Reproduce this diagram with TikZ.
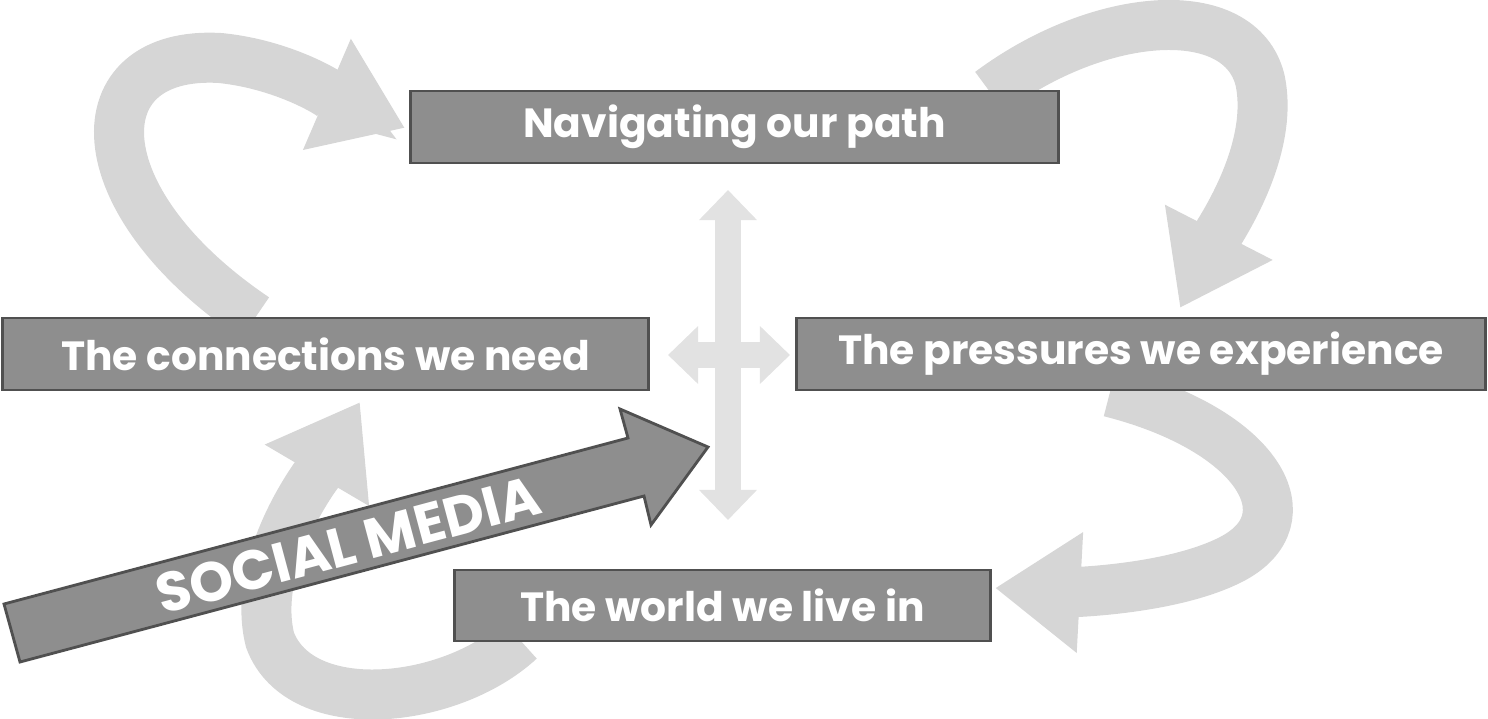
\documentclass[tikz,border=0pt]{standalone}
\usepackage{fontspec}
\setmainfont{Poppins}
\usetikzlibrary{arrows.meta}
\definecolor{boxg}{HTML}{8E8E8E}
\definecolor{boxb}{HTML}{505050}
\definecolor{ribbon}{HTML}{D6D6D6}
\definecolor{cross}{HTML}{E2E2E2}
\tikzset{
 lbl/.style={draw=boxb,fill=boxg,text=white,font=\bfseries\fontsize{11.6pt}{14pt}\selectfont,inner sep=0pt,line width=0.8pt},
 loop/.style={draw=ribbon,line width=0.5cm,-{Triangle[width=1.15cm,length=0.85cm]}},
 crossar/.style={draw=cross,line width=0.26cm,{Triangle[width=0.56cm,length=0.3cm]}-{Triangle[width=0.56cm,length=0.3cm]}}
}
\begin{document}
\begin{tikzpicture}[x=0.01cm,y=-0.01cm]
\useasboundingbox (0,0) rectangle (1488,718);
% ribbons
\draw[loop] (255,318) .. controls (80,200) and (80,50) .. (220,58) .. controls (290,65) and (340,100) .. (405,128);
\draw[loop] (990,92) .. controls (1100,10) and (1240,0) .. (1260,80) .. controls (1275,150) and (1220,230) .. (1180,308);
\draw[loop] (1110,392) .. controls (1260,430) and (1310,520) .. (1230,560) .. controls (1170,590) and (1070,592) .. (995,588);
\draw[loop] (520,640) .. controls (450,705) and (300,720) .. (270,640) .. controls (250,560) and (320,470) .. (360,402);
% boxes
\node[lbl,minimum width=6.47cm,minimum height=0.72cm] (nav) at (734.5,127) {Navigating our path};
\node[lbl,minimum width=6.45cm,minimum height=0.72cm] (con) at (325.5,354) {The connections we need};
\node[lbl,minimum width=6.88cm,minimum height=0.72cm] (pre) at (1141,354) {The pressures we experience};
\node[lbl,minimum width=5.35cm,minimum height=0.71cm] (wor) at (722.5,605.5) {The world we live in};
% cross
\coordinate (vt) at (728,190); \coordinate (vb) at (728,520);
\coordinate (hl) at (668,355); \coordinate (hr) at (790,355);
\draw[crossar] (vt) -- (vb);
\draw[crossar] (hl) -- (hr);
% social media arrow
\coordinate (tip) at (708,447);
\draw[fill=boxg,draw=boxb,line width=0.8pt] (4,604) -- (628,438) -- (620,409) -- (tip) -- (651,525) -- (644,496) -- (20,662) -- cycle;
\node[rotate=15,text=white,font=\bfseries\fontsize{15.8pt}{18pt}\selectfont] (sm) at (348,545) {SOCIAL MEDIA};
\end{tikzpicture}
\end{document}
